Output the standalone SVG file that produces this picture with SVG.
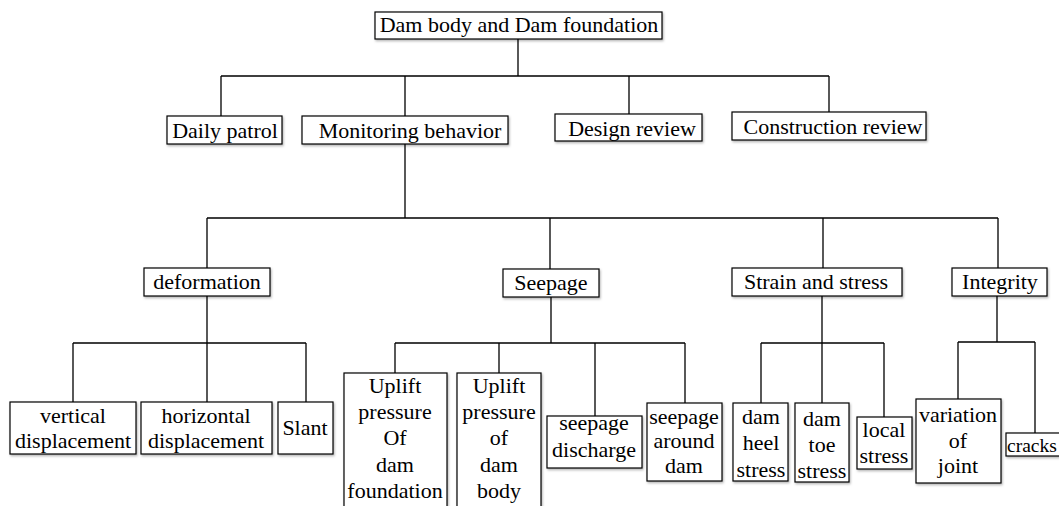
<svg xmlns="http://www.w3.org/2000/svg" width="1059" height="506" viewBox="0 0 1059 506" font-family="'Liberation Serif', 'Times New Roman', serif">
<style>
.box{fill:#fff;stroke:#000;stroke-width:1.2;filter:url(#sh)}
.t{font-family:"Liberation Serif","Times New Roman",serif;font-size:22px;fill:#000;text-anchor:middle}
.c{fill:none;stroke:#000;stroke-width:1.3}
</style>
<defs>
<filter id="sh" x="-10%" y="-10%" width="130%" height="140%">
<feDropShadow dx="1" dy="1.5" stdDeviation="1" flood-color="#000" flood-opacity="0.3"/>
</filter>
</defs>
<rect width="1059" height="506" fill="#fff"/>
<g id="connectors" class="c">
<path d="M518 39V76M221 76H829M221 76V116M405 76V116M629 76V114M829 76V112"/>
<path d="M405 144V218M207 218H998M207 218V268M550 218V269M823 218V268M998 218V268"/>
<path d="M207 296V343M73 343H306M73 343V402M207 343V402M306 343V402"/>
<path d="M551 297V343M395 343H685M395 343V373M499 343V373M595 343V416M685 343V403"/>
<path d="M822 296V343M761 343H884M761 343V403M822 343V403M884 343V417"/>
<path d="M997 296V342M958 342H1035M958 342V399M1035 342V433"/>
</g>
<g id="root"><rect class="box" x="375" y="12" width="287" height="27"/><text class="t" x="519" y="32">Dam body and Dam foundation</text></g>
<g id="daily"><rect class="box" x="167" y="116" width="115" height="28"/><text class="t" x="225" y="138">Daily patrol</text></g>
<g id="monitoring"><rect class="box" x="302" y="116" width="206" height="28"/><text class="t" x="410" y="138">Monitoring behavior</text></g>
<g id="design"><rect class="box" x="555" y="114" width="147" height="27"/><text class="t" x="632" y="136">Design review</text></g>
<g id="construction"><rect class="box" x="732" y="112" width="194" height="28"/><text class="t" x="833" y="134">Construction review</text></g>
<g id="deformation"><rect class="box" x="144" y="268" width="126" height="28"/><text class="t" x="207" y="289">deformation</text></g>
<g id="seepage"><rect class="box" x="503" y="269" width="96" height="28"/><text class="t" x="551" y="290">Seepage</text></g>
<g id="strain"><rect class="box" x="732" y="268" width="170" height="28"/><text class="t" x="816" y="289">Strain and stress</text></g>
<g id="integrity"><rect class="box" x="952" y="268" width="95" height="28"/><text class="t" x="1000" y="289">Integrity</text></g>
<g id="vertical"><rect class="box" x="10" y="402" width="126" height="52"/><text class="t" x="73" y="423">vertical</text><text class="t" x="73" y="448">displacement</text></g>
<g id="horizontal"><rect class="box" x="141" y="402" width="131" height="52"/><text class="t" x="206" y="423">horizontal</text><text class="t" x="206" y="448">displacement</text></g>
<g id="slant"><rect class="box" x="278" y="402" width="55" height="52"/><text class="t" x="305" y="435">Slant</text></g>
<g id="uplift-foundation"><rect class="box" x="344" y="373" width="103" height="140"/><text class="t" x="395" y="393">Uplift</text><text class="t" x="395" y="419">pressure</text><text class="t" x="395" y="445">Of</text><text class="t" x="395" y="472">dam</text><text class="t" x="395" y="498">foundation</text></g>
<g id="uplift-body"><rect class="box" x="457" y="373" width="84" height="140"/><text class="t" x="499" y="393">Uplift</text><text class="t" x="499" y="419">pressure</text><text class="t" x="499" y="445">of</text><text class="t" x="499" y="472">dam</text><text class="t" x="499" y="498">body</text></g>
<g id="discharge"><rect class="box" x="547" y="416" width="95" height="52"/><text class="t" x="594" y="430">seepage</text><text class="t" x="594" y="457">discharge</text></g>
<g id="around"><rect class="box" x="647" y="403" width="75" height="78"/><text class="t" x="684" y="424">seepage</text><text class="t" x="684" y="448">around</text><text class="t" x="684" y="473">dam</text></g>
<g id="heel"><rect class="box" x="733" y="403" width="55" height="78"/><text class="t" x="761" y="424">dam</text><text class="t" x="761" y="450">heel</text><text class="t" x="761" y="477">stress</text></g>
<g id="toe"><rect class="box" x="795" y="403" width="54" height="79"/><text class="t" x="822" y="426">dam</text><text class="t" x="822" y="452">toe</text><text class="t" x="822" y="478">stress</text></g>
<g id="local"><rect class="box" x="857" y="417" width="55" height="52"/><text class="t" x="884" y="437">local</text><text class="t" x="884" y="463">stress</text></g>
<g id="joint"><rect class="box" x="916" y="399" width="85" height="84"/><text class="t" x="958" y="422">variation</text><text class="t" x="958" y="448">of</text><text class="t" x="958" y="473">joint</text></g>
<g id="cracks"><rect class="box" x="1006" y="433" width="70" height="23"/><text class="t" x="1007" y="452" style="text-anchor:start;font-size:19.5px">cracks</text></g>
</svg>
